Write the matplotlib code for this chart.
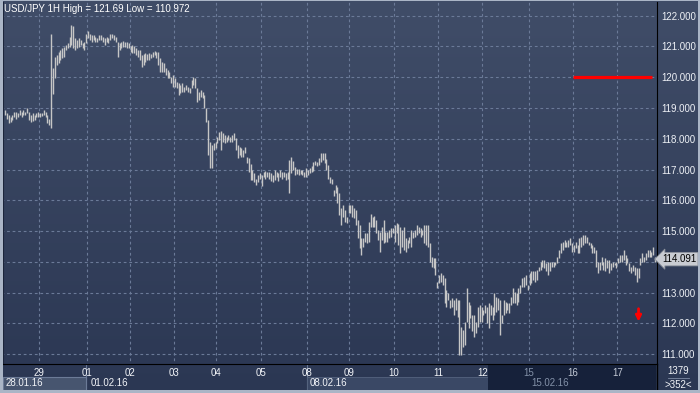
import numpy as np
import matplotlib
matplotlib.use('Agg')
import matplotlib.pyplot as plt
import matplotlib.transforms as mtransforms
from matplotlib.patches import Rectangle
from matplotlib.lines import Line2D
from matplotlib.colors import LinearSegmentedColormap

# USD/JPY hourly bars, 28.01.16 - 17.02.16
highs = [
    118.93, 118.83, 118.77, 118.72, 118.77, 118.86, 118.88, 118.83, 118.93, 118.88,
    118.93, 118.88, 118.99, 118.88, 118.77, 118.83, 118.77, 118.83, 118.86,
    118.83, 118.83, 118.93, 118.88, 118.77, 118.66, 121.42, 120.29, 120.67, 120.72,
    120.83, 120.88, 120.94, 120.99, 121.05, 121.10, 121.32, 121.69, 121.68, 121.26,
    121.21, 121.26, 121.21, 121.10, 121.15,
    121.42, 121.50, 121.42, 121.37, 121.37, 121.32, 121.26, 121.37, 121.37, 121.32,
    121.26, 121.32, 121.26, 121.42, 121.39, 121.37, 121.32, 121.15, 121.10, 121.15,
    121.17, 121.15, 121.15, 121.10,
    121.03, 121.05, 121.00, 120.94, 120.89, 120.89, 120.72, 120.74, 120.78, 120.74,
    120.78, 120.74, 120.83, 120.85, 120.83, 120.83, 120.61, 120.51, 120.45, 120.29,
    120.24, 120.18, 120.02, 120.07,
    119.97, 119.86, 119.80, 119.75, 119.80, 119.69, 119.75, 119.69, 119.66, 119.91,
    120.02, 119.97, 119.64, 119.53, 119.59, 119.53, 119.42, 118.99, 118.61, 117.91,
    117.80, 117.85, 117.91, 118.07,
    118.23, 118.26, 118.18, 118.12, 118.07, 118.12, 118.07, 118.12, 118.18, 118.02,
    117.80, 117.75, 117.69, 117.64, 117.75, 117.42, 117.37, 117.18, 116.99, 116.90,
    116.71, 116.82, 116.88, 116.82,
    116.93, 116.96, 116.93, 116.93, 116.88, 116.82, 116.99, 116.93, 116.88, 116.99,
    116.93, 116.93, 116.88, 116.93, 117.31, 117.42, 117.29, 117.09, 117.01, 117.01,
    116.99, 116.99, 116.93, 117.04,
    116.99, 117.04, 117.12, 117.26, 117.29, 117.26, 117.37, 117.53, 117.55, 117.53,
    117.33, 117.15, 116.77, 116.71, 116.34, 116.50, 116.44, 116.23, 115.74, 115.85,
    115.69, 115.47, 115.85, 115.85,
    115.85, 115.74, 115.69, 115.36, 115.20, 114.77, 114.77, 114.93, 114.93, 115.31,
    115.56, 115.47, 115.49, 115.36, 115.04, 114.98, 115.15, 115.36, 114.98, 114.98,
    115.04, 115.09, 115.09, 115.20,
    115.25, 115.23, 115.15, 115.04, 115.15, 114.77, 114.71, 114.82, 115.04, 114.98,
    115.04, 115.20, 115.15, 115.09, 115.04, 115.20, 115.20, 115.20, 114.60, 114.17,
    114.12, 114.12, 113.36, 113.58,
    113.63, 113.58, 113.47, 113.09, 113.00, 112.76, 112.82, 112.76, 112.82, 112.76,
    112.76, 111.90, 111.79, 112.06, 113.14, 112.71, 112.60, 112.28, 112.28, 112.06,
    112.55, 112.60, 112.55, 112.44,
    112.60, 112.55, 112.65, 112.60, 112.55, 112.98, 112.87, 112.82, 112.76, 112.28,
    112.76, 112.71, 112.65, 112.66, 112.87, 113.14, 113.03, 112.98, 113.14, 113.25,
    113.47, 113.52, 113.58, 113.25,
    113.63, 113.69, 113.69, 113.69, 113.74, 113.85, 114.01, 114.06, 114.06, 113.96,
    114.01, 114.01, 114.01, 114.01, 114.01, 114.17, 114.39, 114.60, 114.66, 114.71,
    114.66, 114.71, 114.77, 114.60,
    114.55, 114.66, 114.55, 114.77, 114.82, 114.88, 114.88, 114.82, 114.66, 114.60,
    114.55, 114.50, 114.39, 114.01, 114.01, 114.17, 114.01, 114.12, 114.06, 114.06,
    113.96, 114.01, 113.96, 114.01,
    114.12, 114.23, 114.23, 114.39, 114.23, 114.12, 113.96, 113.85, 113.90, 113.85,
    113.79, 113.79, 114.12, 114.28, 114.17, 114.28, 114.39, 114.39, 114.33, 114.50,
    114.17,
]
lows = [
    118.77, 118.66, 118.53, 118.55, 118.61, 118.72, 118.64, 118.72, 118.77, 118.72,
    118.77, 118.77, 118.83, 118.61, 118.55, 118.58, 118.61, 118.72, 118.72,
    118.72, 118.75, 118.77, 118.72, 118.50, 118.45, 118.36, 119.45, 119.96, 120.40,
    120.45, 120.56, 120.61, 120.67, 120.88, 120.94, 120.99, 121.05, 120.94, 120.88,
    120.94, 120.99, 121.05, 120.94, 120.88,
    121.10, 121.26, 121.21, 121.15, 121.21, 121.15, 121.15, 121.21, 121.21, 121.15,
    121.05, 121.15, 121.10, 121.21, 121.26, 121.21, 121.15, 120.67, 120.88, 120.94,
    120.99, 120.99, 120.94, 120.94,
    120.83, 120.78, 120.78, 120.72, 120.67, 120.56, 120.34, 120.40, 120.51, 120.56,
    120.56, 120.61, 120.67, 120.72, 120.61, 120.40, 120.18, 120.18, 120.18, 120.07,
    119.99, 119.97, 119.80, 119.69,
    119.69, 119.64, 119.42, 119.48, 119.53, 119.53, 119.59, 119.53, 119.48, 119.64,
    119.75, 119.64, 119.21, 119.26, 119.37, 119.32, 118.99, 118.56, 117.47, 117.04,
    117.04, 117.64, 117.69, 117.85,
    117.96, 117.64, 117.91, 117.85, 117.91, 117.96, 117.91, 117.91, 117.96, 117.64,
    117.37, 117.47, 117.42, 117.42, 117.53, 117.20, 116.93, 116.66, 116.66, 116.61,
    116.50, 116.61, 116.71, 116.47,
    116.77, 116.68, 116.77, 116.71, 116.64, 116.61, 116.66, 116.77, 116.64, 116.77,
    116.71, 116.77, 116.66, 116.71, 116.25, 116.88, 116.99, 116.82, 116.86, 116.82,
    116.86, 116.82, 116.77, 116.77,
    116.82, 116.88, 116.93, 116.96, 117.15, 117.12, 117.15, 117.26, 117.31, 117.20,
    116.99, 116.71, 116.55, 116.53, 116.14, 116.23, 115.90, 115.52, 115.20, 115.47,
    115.31, 115.25, 115.58, 115.60,
    115.47, 115.42, 115.20, 114.77, 114.44, 114.23, 114.50, 114.66, 114.60, 114.66,
    115.15, 115.15, 115.15, 114.93, 114.71, 114.33, 114.71, 114.60, 114.66, 114.66,
    114.77, 114.82, 114.93, 114.66,
    114.93, 114.55, 114.28, 114.50, 114.39, 114.33, 114.44, 114.60, 114.50, 114.77,
    114.82, 114.88, 114.93, 114.82, 114.88, 114.60, 114.55, 114.50, 114.01, 113.85,
    113.79, 113.58, 113.14, 113.30,
    113.36, 113.25, 112.65, 112.55, 112.76, 112.49, 112.55, 112.28, 112.44, 112.22,
    110.972, 110.98, 111.25, 111.30, 112.06, 111.84, 112.17, 111.74, 111.57, 111.68,
    111.90, 112.06, 112.06, 112.28,
    112.33, 112.00, 111.84, 112.28, 112.11, 112.28, 112.38, 112.44, 111.63, 112.00,
    112.28, 112.33, 112.44, 112.33, 112.60, 112.66, 112.66, 112.60, 112.71, 112.98,
    113.20, 113.20, 113.25, 113.09,
    113.25, 113.30, 113.41, 113.36, 113.41, 113.69, 113.74, 113.85, 113.79, 113.69,
    113.58, 113.69, 113.85, 113.85, 113.90, 113.96, 114.12, 114.28, 114.39, 114.50,
    114.50, 114.50, 114.55, 114.33,
    114.33, 114.44, 114.28, 114.28, 114.50, 114.55, 114.60, 114.60, 114.55, 114.44,
    114.28, 114.28, 113.85, 113.63, 113.74, 113.90, 113.74, 113.69, 113.79, 113.63,
    113.74, 113.85, 113.90, 113.79,
    113.96, 114.01, 114.01, 114.06, 113.90, 113.96, 113.69, 113.63, 113.69, 113.58,
    113.36, 113.47, 113.90, 114.01, 114.01, 114.06, 114.17, 114.17, 114.17, 114.23,
    114.01,
]

day_labels = ['29', '01', '02', '03', '04', '05', '08', '09', '10', '11', '12', '15', '16', '17']
day_start = [19, 45, 68, 92, 115, 139, 164, 187, 211, 235, 259, 284, 308, 332]
week_labels = ['28.01.16', '01.02.16', '08.02.16', '15.02.16']
week_start = [0, 45, 164, 284]
price_levels = [111, 112, 113, 114, 115, 116, 117, 118, 119, 120, 121, 122]

last_price = 114.091
alert_level = 120.0
signal_bar = 343
signal_price = 112.06
bars_total = 1379

W, H = 700, 393
fig = plt.figure(figsize=(7, 3.93), dpi=100)
plt.rcParams['font.family'] = ['Liberation Sans', 'DejaVu Sans']


def fx(px):
    return px / W


def fy(py):
    return 1 - py / H


def rect(x0, y0, x1, y1, z=-0.5, **kw):
    fig.patches.append(Rectangle((fx(x0), fy(y1)), fx(x1) - fx(x0), fy(y0) - fy(y1),
                                 transform=fig.transFigure, zorder=z, **kw))


def line(x0, y0, x1, y1, z=-0.5, **kw):
    fig.lines.append(Line2D([fx(x0), fx(x1)], [fy(y0), fy(y1)], transform=fig.transFigure,
                            zorder=z, **kw))


# gradient background
bg = fig.add_axes([0, 0, 1, 1], zorder=-1)
bg.axis('off')
cmap = LinearSegmentedColormap.from_list('bg', ['#404d68', '#2b3753'])
bg.imshow(np.linspace(0, 1, 256).reshape(-1, 1), aspect='auto', cmap=cmap, extent=[0, 1, 0, 1])
bg.set_xlim(0, 1)
bg.set_ylim(0, 1)

ax = fig.add_axes([fx(3), fy(364), fx(657) - fx(3), fy(2) - fy(364)])
ax.set_facecolor('none')
ax.set_xlim(-1.08, 353.0)
ax.set_ylim(110.684, 122.445)

grid_kw = dict(color='#6b7a98', lw=0.8, linestyles=(0, (2.5, 2.5)), zorder=1)
ax.hlines(price_levels, -2, 360, **grid_kw)
ax.vlines([d - 0.5 for d in day_start], 100, 130, **grid_kw)

idx = np.arange(len(highs))
ax.vlines(idx, lows, highs, color='#c6c6c6', lw=1.0, zorder=2)

# alert line and signal arrow
ax.hlines(alert_level, day_start[-2] - 0.5, len(highs) - 2.5, color='#ff0000', lw=2.3, zorder=3)
ax.annotate('', xy=(signal_bar, signal_price), xytext=(signal_bar, signal_price + 0.42),
            arrowprops=dict(arrowstyle='-|>', color='#ff0000', lw=2.0, mutation_scale=8,
                            shrinkA=0, shrinkB=0))

ax.yaxis.tick_right()
ax.set_yticks(price_levels)
# the level next to the current price sits under the price marker
ax.set_yticklabels(['' if abs(v - last_price) < 0.3 else f'{v:.3f}' for v in price_levels])
ax.tick_params(axis='y', length=0, pad=3, labelcolor='#eef1f6', labelsize=7)
ax.set_xticks([])
ax.spines['top'].set_visible(False)
ax.spines['left'].set_color('#1c253b')
ax.spines['right'].set_color('black')
ax.spines['bottom'].set_color('black')

# current price marker
off = mtransforms.offset_copy(ax.get_yaxis_transform(), fig=fig, x=5, y=0, units='dots')
ax.text(1.0, last_price, f'{last_price:.3f}', transform=off, ha='left', va='center',
        fontsize=7, color='black', zorder=5, clip_on=False,
        bbox=dict(boxstyle='larrow,pad=0.18', fc='#c9ccd2', ec='#8d929c', lw=0.6))

# title
fig.text(fx(4), fy(8.5), f'USD/JPY 1H High = {max(highs):g} Low = {min(lows):g}',
         color='white', fontsize=7, va='center', ha='left')

# bottom time panel
rect(3, 377, 86, 390, fc='#47556f', ec='#6c7b97', lw=0.8)
rect(307, 377, 488, 390, fc='#3a4865', ec='#55647f', lw=0.6)
rect(488, 364.5, 656, 390, fc='#16213a', ec='none')
line(86, 365, 86, 390, color='#6b7a98', lw=0.8)
line(307, 365, 307, 390, color='#6b7a98', lw=0.8)
line(530, 377, 530, 390, color='#2e3b58', lw=0.8)
line(657, 364, 657, 390, color='black', lw=1.0)

tb = mtransforms.blended_transform_factory(ax.transData, fig.transFigure)
for lab, d in zip(day_labels, day_start):
    col = '#f2f4f8'
    if d >= 284:
        col = '#8391a8' if lab == '15' else '#c3cad6'
    ax.text(d - 0.5, fy(372.5), lab, transform=tb, ha='center', va='center',
            fontsize=7, color=col, clip_on=False)
for lab, w in zip(week_labels, week_start):
    col = '#8391a8' if w >= 284 else '#f2f4f8'
    xoff = mtransforms.offset_copy(tb, fig=fig, x=3 if w else 2.5, y=0, units='dots')
    ax.text(w - 0.5 if w else -1.08, fy(383.5), lab, transform=xoff, ha='left', va='center',
            fontsize=7, color=col, clip_on=False)

# bottom-right counter
fig.text(fx(678), fy(371.5), str(bars_total), ha='center', va='center', fontsize=7, color='#f2f4f8')
line(668, 378, 689, 378, color='#7d8aa3', lw=0.6)
fig.text(fx(678), fy(384.5), f'>{len(highs) - 1}<', ha='center', va='center', fontsize=7, color='#f2f4f8')

# outer frame
frame = '#aab5c6'
rect(0, 0, 2.5, 393, z=5, fc=frame, ec='none')
rect(0, 390, 700, 393, z=5, fc=frame, ec='none')
rect(698, 0, 700, 393, z=5, fc=frame, ec='none')
rect(0, 0, 700, 1, z=5, fc=frame, ec='none')

fig.savefig('out.png', dpi=100)
